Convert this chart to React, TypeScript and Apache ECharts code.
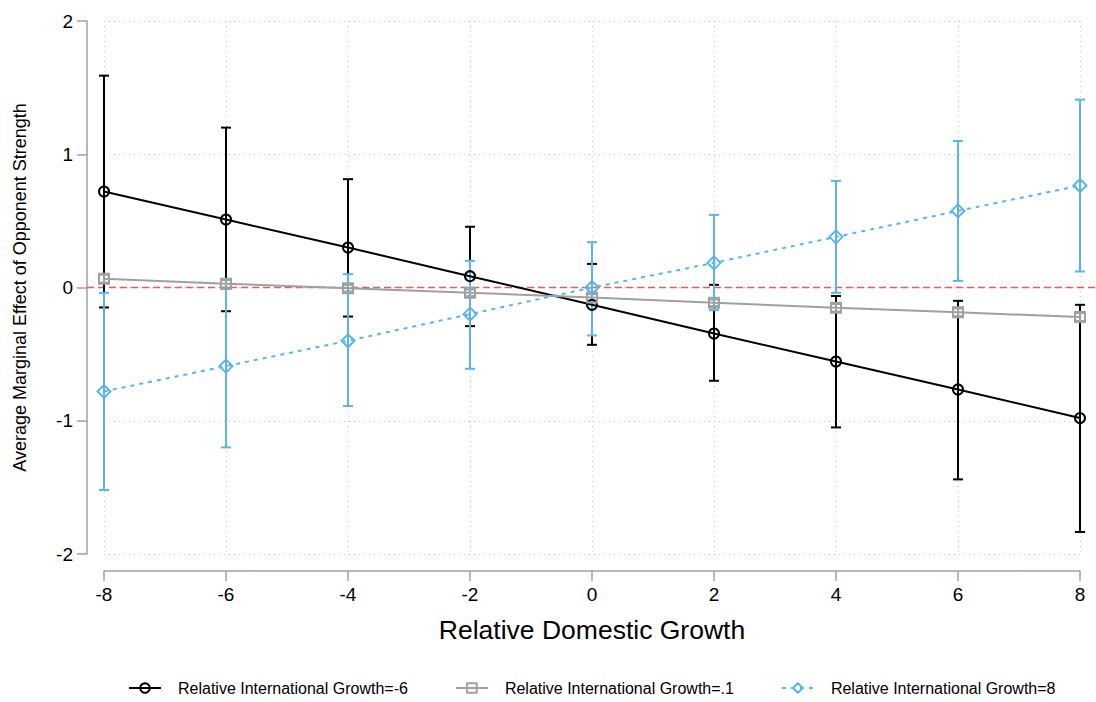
import React, { useEffect, useRef } from "react";
import * as echarts from "echarts";

const xValues = [-8, -6, -4, -2, 0, 2, 4, 6, 8];

const seriesNames = [
  "Relative International Growth=-6",
  "Relative International Growth=.1",
  "Relative International Growth=8",
];

// point estimates
const blackMean = [0.72, 0.51, 0.30, 0.085, -0.13, -0.345, -0.555, -0.765, -0.98];
const grayMean = [0.066, 0.028, -0.005, -0.04, -0.075, -0.115, -0.152, -0.186, -0.222];
const blueMean = [-0.78, -0.59, -0.40, -0.20, 0.0, 0.185, 0.38, 0.575, 0.765];

// confidence intervals
const blackLow = [-0.15, -0.178, -0.218, -0.29, -0.43, -0.70, -1.05, -1.44, -1.835];
const blackHigh = [1.59, 1.20, 0.813, 0.456, 0.177, 0.02, -0.064, -0.10, -0.13];
const grayLow = [0.036, 0.0, -0.03, -0.065, -0.1, -0.14, -0.18, -0.215, -0.252];
const grayHigh = [0.096, 0.056, 0.02, -0.015, -0.05, -0.09, -0.124, -0.157, -0.192];
const blueLow = [-1.52, -1.20, -0.89, -0.61, -0.36, -0.17, -0.04, 0.05, 0.12];
const blueHigh = [-0.04, -0.01, 0.10, 0.20, 0.34, 0.545, 0.80, 1.10, 1.41];

const referenceLine = [0];

const colors = ["#000000", "#a0a0a0", "#5bb4e5"];
const RED = "#f05a5a";
const FONT = "Liberation Sans, Arial, sans-serif";

const App: React.FC = () => {
  const ref = useRef<HTMLDivElement>(null);

  useEffect(() => {
    if (!ref.current) return;
    const chart = echarts.init(ref.current, undefined, { renderer: "svg" });

    const means = [blackMean, grayMean, blueMean];
    const lows = [blackLow, grayLow, blueLow];
    const highs = [blackHigh, grayHigh, blueHigh];
    const symbols = ["circle", "rect", "diamond"];
    const symbolSizes = [10, 10, 13];
    const lineTypes: any[] = ["solid", "solid", [4, 5]];

    const errSeries = means.map((_, i) => ({
      type: "custom",
      name: seriesNames[i] + "_ci",
      z: 3 + i,
      clip: false,
      data: xValues.map((x, j) => [x, lows[i][j], highs[i][j]]),
      renderItem: (params: any, api: any) => {
        const x = api.value(0);
        const lo = api.coord([x, api.value(1)]);
        const hi = api.coord([x, api.value(2)]);
        const half = 5;
        const style = { stroke: colors[i], lineWidth: 2 };
        return {
          type: "group",
          children: [
            { type: "line", shape: { x1: lo[0], y1: lo[1], x2: hi[0], y2: hi[1] }, style },
            { type: "line", shape: { x1: lo[0] - half, y1: lo[1], x2: lo[0] + half, y2: lo[1] }, style },
            { type: "line", shape: { x1: hi[0] - half, y1: hi[1], x2: hi[0] + half, y2: hi[1] }, style },
          ],
        };
      },
      tooltip: { show: false },
    }));

    const lineSeries = means.map((m, i) => ({
      type: "line",
      name: seriesNames[i],
      z: 6 + i,
      data: xValues.map((x, j) => [x, m[j]]),
      symbol: symbols[i],
      symbolSize: symbolSizes[i],
      showAllSymbol: true,
      lineStyle: { color: colors[i], width: 2, type: lineTypes[i] },
      itemStyle: { color: "rgba(255,255,255,0)", borderColor: colors[i], borderWidth: 2 },
      emphasis: { disabled: true },
    }));

    // zero reference line (red dashed), drawn through the y scale
    const refSeries = {
      type: "custom",
      name: "zero_ref",
      z: 2,
      clip: false,
      silent: true,
      data: referenceLine.map((v) => [v]),
      renderItem: (params: any, api: any) => {
        const y = api.value(0);
        const a = api.coord([-8, y]);
        const b = api.coord([8, y]);
        return {
          type: "line",
          shape: { x1: a[0] - 17, y1: a[1], x2: b[0] + 16, y2: b[1] },
          style: { stroke: RED, lineWidth: 1.3, lineDash: [7, 4] },
        };
      },
      encode: { y: 0 },
    };

    chart.setOption({
      animation: false,
      backgroundColor: "#ffffff",
      grid: { left: 104, right: 16, top: 21, bottom: 148 },
      xAxis: {
        type: "value",
        min: -8,
        max: 8,
        interval: 2,
        offset: 17,
        name: "Relative Domestic Growth",
        nameLocation: "middle",
        nameGap: 45,
        nameTextStyle: { fontSize: 26.5, color: "#000", fontFamily: FONT },
        axisLine: { show: true, onZero: false, lineStyle: { color: "#a0a0a0", width: 1.5 } },
        axisTick: { show: true, length: 10, lineStyle: { color: "#a0a0a0", width: 1.5 } },
        axisLabel: { fontSize: 19, color: "#000", margin: 14, fontFamily: FONT },
        splitLine: { show: true, lineStyle: { color: "#c8c8c8", type: [1, 4], width: 1 } },
      },
      yAxis: {
        type: "value",
        min: -2,
        max: 2,
        interval: 1,
        offset: 17,
        name: "Average Marginal Effect of Opponent Strength",
        nameLocation: "middle",
        nameGap: 58,
        nameTextStyle: { fontSize: 18, color: "#000", fontFamily: FONT },
        axisLine: { show: true, onZero: false, lineStyle: { color: "#a0a0a0", width: 1.5 } },
        axisTick: { show: true, length: 10, lineStyle: { color: "#a0a0a0", width: 1.5 } },
        axisLabel: { fontSize: 19, color: "#000", margin: 14, fontFamily: FONT },
        splitLine: { show: true, lineStyle: { color: "#c8c8c8", type: [1, 4], width: 1 } },
      },
      legend: {
        bottom: 1,
        left: 123,
        itemWidth: 32,
        itemHeight: 12,
        itemGap: 47,
        data: seriesNames,
        textStyle: { fontSize: 16, color: "#000", padding: [0, 0, 0, 12], fontFamily: FONT },
      },
      series: [refSeries, ...errSeries, ...lineSeries],
    });

    return () => chart.dispose();
  }, []);

  return <div ref={ref} style={{ width: 1096, height: 702, position: "absolute", left: 0, top: 0 }} />;
};

export default App;
